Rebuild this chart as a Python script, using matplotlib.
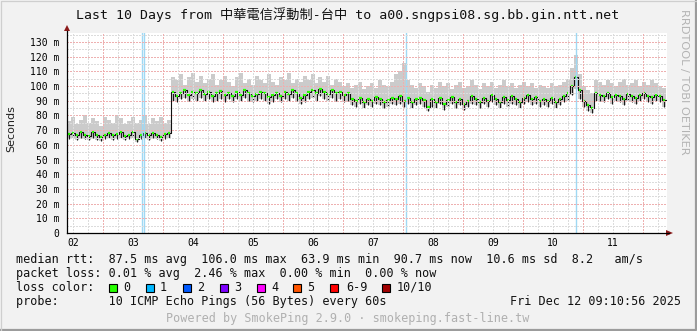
import numpy as np
import matplotlib
matplotlib.use("Agg")
import matplotlib.pyplot as plt
from matplotlib.patches import Rectangle

# ---- data (150 samples over the 10 days) ----
median = [67.5, 68, 66.5, 69, 67, 66, 68.5, 67, 65.5, 67, 68, 66.5, 67.5, 69, 66, 67, 68.5, 64, 67, 68,
          66.5, 68, 67, 65.5, 67.5, 68,
          96,
          93, 95.5, 97, 94, 96, 95, 97.5, 94.5, 96, 93, 95, 96.5, 94, 95.5, 93.5, 96, 94, 97, 95, 93,
          94.5, 96, 95, 92.5, 94, 95.5, 93, 96, 94.5, 97, 95, 92, 94,
          96, 97.5, 95, 98, 96, 94.5, 97, 95.5, 96, 94, 95,
          91, 90, 92, 89.5, 91.5, 90, 92.5, 91, 89, 90.5, 92, 91, 93, 90, 92, 89.5, 91, 92, 90.5,
          86,
          91, 89, 92, 88, 90.5, 92.5, 89, 91, 87.5, 90, 93, 91, 89.5, 92, 90, 94, 91, 89, 92.5, 90.5,
          93, 91.5, 89, 92, 94, 91, 92.5, 90,
          91, 90, 92, 89.5, 91, 93, 95,
          100, 106, 97, 90, 87, 85,
          95.5,
          94, 93, 95, 92.5, 94, 93, 91.5, 94.5, 93, 92, 94, 95, 93, 92.5, 94, 93.5, 90.7]
smoke_hi = [76, 79, 74, 77, 80, 75, 78, 76, 73, 79, 77, 75, 80, 78, 74, 76, 79, 75, 77, 80,
            74, 78, 76, 79, 75, 77,
            106,
            104, 108, 101, 106, 109, 103, 107, 102, 105, 108, 101, 104, 107, 103, 100, 106, 109, 102, 105, 101,
            107, 104, 102, 108, 103, 101, 106, 104, 109, 102, 105, 103, 107,
            104, 108, 102, 106, 103, 107, 101, 105, 103, 100, 102,
            99, 101, 103, 98, 100, 102, 99, 104, 101, 100, 103, 108, 110, 116, 104, 101, 99, 102, 100,
            96,
            101, 99, 103, 100, 102, 98, 101, 103, 99, 100, 104, 101, 98, 102, 100, 103, 99, 101, 104, 100,
            102, 99, 101, 103, 100, 102, 99, 101,
            100, 99, 102, 100, 101, 103, 105,
            112, 121, 108, 100, 97, 95,
            104,
            103, 101, 104, 102, 100, 103, 105, 101, 102, 104, 100, 103, 101, 104, 102, 100, 99]
smoke_lo = [64, 64.5, 63, 65, 64, 63, 64.5, 63.5, 62.5, 64, 65, 63, 64, 65, 63, 64, 65, 62, 64, 64.5,
            63, 64.5, 64, 62.5, 64, 64.5,
            90,
            89, 91, 92, 90, 91, 90, 92, 90, 91, 89, 90, 91, 89, 91, 89, 91, 90, 92, 90, 89,
            90, 91, 90, 88, 89, 91, 89, 91, 90, 92, 90, 88, 89,
            91, 92, 90, 93, 91, 90, 92, 90, 91, 89, 90,
            87, 86, 88, 85, 87, 86, 88, 87, 85, 86, 88, 87, 88, 86, 88, 85, 87, 88, 86,
            83,
            86, 85, 88, 84, 86, 88, 85, 87, 84, 86, 88, 87, 85, 88, 86, 89, 87, 85, 88, 86,
            88, 87, 85, 88, 89, 87, 88, 86,
            87, 86, 88, 85, 87, 89, 90,
            94, 98, 91, 86, 83, 82,
            90,
            90, 89, 91, 88, 90, 89, 87, 90, 89, 88, 90, 91, 89, 88, 90, 89, 86]

day_labels = ["02", "03", "04", "05", "06", "07", "08", "09", "10", "11"]
y_ticks = list(range(0, 131, 10))
loss_names = ["0", "1", "2", "3", "4", "5", "6-9", "10/10"]
loss_colors = ["#26ff00", "#00b8ff", "#0059ff", "#7e00ff", "#ff00ff", "#ff5500", "#ff0000", "#a10000"]
outage_days = [3.642, 3.675, 8.058, 10.875]

W, H = 697, 331
MONO = ["DejaVu Sans Mono", "Noto Sans CJK TC"]

fig = plt.figure(figsize=(W / 100, H / 100), dpi=100, facecolor="#f2f2f2")
ax = fig.add_axes([67 / W, (H - 233) / H, 600 / W, 200 / H])
ax.set_facecolor("white")
t0, t1 = 2.4, 12.4
ax.set_xlim(t0, t1)
ax.set_ylim(0, 200 / 1.4692)

n = len(median)
edges = np.linspace(t0, t1 - 0.02, n + 1)
centers = (edges[:-1] + edges[1:]) / 2
med = np.array(median)
hi = np.array(smoke_hi)
lo = np.array(smoke_lo)

# smoke
ax.fill_between(edges, np.append(lo, lo[-1]), np.append(hi, hi[-1]), step="post",
                color="#cbcbcb", lw=0, zorder=2)
# black strokes below the median and step connectors
ax.vlines(centers, lo, med, color="#1a1a1a", lw=0.8, zorder=3)
ax.step(edges, np.append(med, med[-1]), where="post", color="#111111", lw=0.8, zorder=3)
# median coloured by loss (all 0 here)
ax.hlines(med, edges[:-1] + 0.012, edges[1:] - 0.012, color=loss_colors[0], lw=1.6, zorder=4)

for d in outage_days:
    ax.axvline(d, color="#9fd8f3", lw=1.0, zorder=5)

# grid drawn over the data, rrdtool style
for v in np.arange(5, 136, 5):
    major = v % 10 == 0
    ax.axhline(v, color="#eeb0b0" if major else "#dcdcdc", lw=0.75, ls=(0, (1, 1)),
               antialiased=False, zorder=6)
for d in np.arange(2.5, 12.4, 0.25):
    major = abs(d - round(d)) < 1e-6
    ax.axvline(d, color="#eeb0b0" if major else "#dcdcdc", lw=0.75, ls=(0, (1, 1)),
               antialiased=False, zorder=6)

for s in ax.spines.values():
    s.set_visible(False)
ax.set_yticks(y_ticks)
ax.set_yticklabels(["0"] + [f"{v} m" for v in y_ticks[1:]], family=MONO, fontsize=7)
ax.set_xticks([int(l) + 0.5 for l in day_labels])
ax.set_xticklabels(day_labels, family=MONO, fontsize=7)
ax.tick_params(axis="y", length=0, pad=5.5)
ax.tick_params(axis="x", length=0, pad=3.5)

# overlay in pixel coordinates for axes arrows, legend and frame
ov = fig.add_axes([0, 0, 1, 1], zorder=10)
ov.set_xlim(0, W)
ov.set_ylim(H, 0)
ov.axis("off")

ov.plot([67, 669], [233, 233], color="black", lw=0.9)
ov.plot([67, 67], [233, 31], color="black", lw=0.9)
ov.fill([666, 673, 666], [230, 233, 236], color="#8b1a1a", lw=0)
ov.fill([64, 67, 70], [31, 25, 31], color="#8b1a1a", lw=0)

ov.text(348, 15, "Last 10 Days from 中華電信浮動制-台中 to a00.sngpsi08.sg.bb.gin.ntt.net",
        family=MONO, fontsize=9.5, ha="center", va="center", color="#111111")
ov.text(11, 129, "Seconds", family="DejaVu Sans", fontsize=8, rotation=90,
        ha="center", va="center", color="#222222")
ov.text(684, 82, "RRDTOOL / TOBI OETIKER", family="DejaVu Sans", fontsize=8.2, rotation=270,
        ha="center", va="center", color="#b4b4b4")

fs = 8.5
ov.text(16, 259.5, "median rtt:  87.5 ms avg  106.0 ms max  63.9 ms min  90.7 ms now  10.6 ms sd  8.2   am/s",
        family=MONO, fontsize=fs, ha="left", va="center", color="#111111")
ov.text(16, 273.5, "packet loss: 0.01 % avg  2.46 % max  0.00 % min  0.00 % now",
        family=MONO, fontsize=fs, ha="left", va="center", color="#111111")
ov.text(16, 287.5, "loss color:", family=MONO, fontsize=fs, ha="left", va="center", color="#111111")
box_x = [109, 146, 183, 220, 257, 293, 330, 382]
lab_x = [123, 160, 197, 234, 271, 307, 346, 397]
for bx, lx, name, col in zip(box_x, lab_x, loss_names, loss_colors):
    ov.add_patch(Rectangle((bx, 283.5), 8, 8, facecolor=col, edgecolor="black", lw=0.8))
    ov.text(lx, 287.5, name, family=MONO, fontsize=fs, ha="left", va="center", color="#111111")
ov.text(16, 301.5, "probe:       10 ICMP Echo Pings (56 Bytes) every 60s",
        family=MONO, fontsize=fs, ha="left", va="center", color="#111111")
ov.text(681, 301.5, "Fri Dec 12 09:10:56 2025", family=MONO, fontsize=fs,
        ha="right", va="center", color="#111111")
ov.text(348, 318.5, "Powered by SmokePing 2.9.0 · smokeping.fast-line.tw", family=MONO,
        fontsize=fs, ha="center", va="center", color="#b0b0b0")

# frame
ov.plot([0.5, W - 1, W - 1], [H - 1, H - 1, 0.5], color="#9c9c9c", lw=1.6)
ov.plot([0.5, 0.5, W - 1], [H - 1, 0.5, 0.5], color="#cfcfcf", lw=0.9)

fig.savefig("out.png", dpi=100, facecolor=fig.get_facecolor())
